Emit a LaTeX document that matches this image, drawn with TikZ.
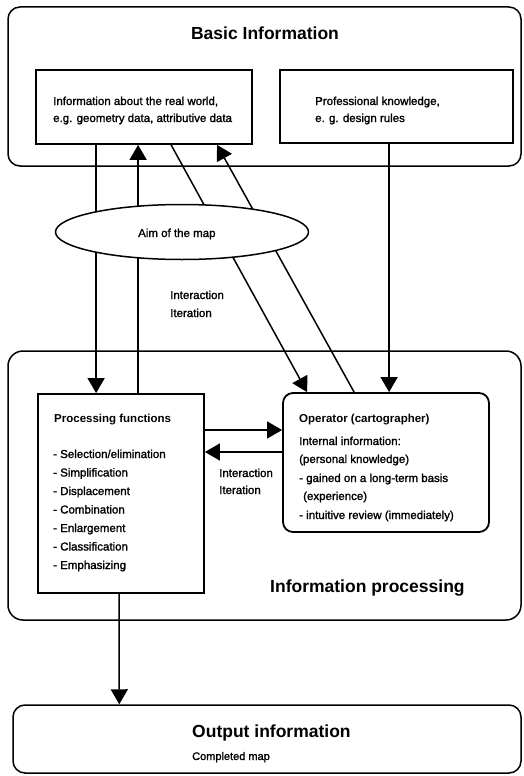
\documentclass[tikz,border=0pt]{standalone}
\usepackage{fontspec}
\setmainfont{Liberation Sans}[UprightFeatures={FakeBold=1.5}]
\usetikzlibrary{arrows.meta,shapes.geometric,backgrounds}
\begin{document}
\begin{tikzpicture}[x=1pt,y=-1pt,
  outerbox/.style={draw,line width=1.5pt,rounded corners=12pt,minimum width=#1,inner sep=0pt},
  innerbox/.style={draw,line width=1.8pt,inner sep=0pt},
  txt/.style={anchor=base west,inner sep=0pt,font=\fontsize{11.5}{13}\selectfont},
  btxt/.style={anchor=base west,inner sep=0pt,font=\fontsize{11.5}{13}\selectfont\bfseries},
  big/.style={anchor=base west,inner sep=0pt,font=\fontsize{17.5}{20}\selectfont\bfseries},
  arr/.style={line width=1.5pt,-{Triangle[length=15pt,width=17pt]}}]
\useasboundingbox (0,0) rectangle (523,776);
% outer boxes
\node[outerbox=513pt,minimum height=159pt] (basic) at (264.5,86.5) {};
\node[outerbox=513pt,minimum height=269pt,rounded corners=15pt] (procarea) at (264.5,485.5) {};
\node[outerbox=508pt,minimum height=68pt] (output) at (267,739) {};
% inner boxes
\node[innerbox,minimum width=216pt,minimum height=74pt] (real) at (144,107) {};
\node[innerbox,minimum width=233pt,minimum height=73pt] (prof) at (396.5,106.5) {};
\node[draw,fill=white,line width=1.5pt,ellipse,minimum width=253pt,minimum height=55pt,inner sep=0pt] (aim) at (182,232) {};
\node[innerbox,minimum width=166pt,minimum height=199pt] (proc) at (121,493.5) {};
\node[innerbox,rounded corners=10pt,minimum width=206pt,minimum height=139pt] (op) at (386,462.5) {};
% titles
\node[big,anchor=base] (tbasic) at (265,40) {Basic Information};
\node[big] (tproc) at (270,592) {Information processing};
\node[big] (tout) at (192,737) {Output information};
\node[txt,font=\fontsize{11}{13}\selectfont] (tcomp) at (192,760) {Completed map};
% basic info texts
\node[txt] (r1) at (53,105) {Information about the real world,};
\node[txt] (r2) at (53,122) {e.g. geometry data, attributive data};
\node[txt] (p1) at (315,105) {Professional knowledge,};
\node[txt] (p2) at (315,122) {e. g. design rules};
\node[txt] (taim) at (138,237) {Aim of the map};
\node[txt] (ii1) at (170,299) {Interaction};
\node[txt] (ii2) at (170,317) {Iteration};
% processing functions
\node[btxt] (pf) at (54,422) {Processing functions};
\node[txt] (f1) at (53,458) {- Selection/elimination};
\node[txt] (f2) at (53,476.5) {- Simplification};
\node[txt] (f3) at (53,495) {- Displacement};
\node[txt] (f4) at (53,513.5) {- Combination};
\node[txt] (f5) at (53,532) {- Enlargement};
\node[txt] (f6) at (53,550.5) {- Classification};
\node[txt] (f7) at (53,569) {- Emphasizing};
% operator
\node[btxt] (ot) at (299,422) {Operator (cartographer)};
\node[txt] (o1) at (299,445) {Internal information:};
\node[txt] (o2) at (299,463) {(personal knowledge)};
\node[txt] (o3) at (299,482) {- gained on a long-term basis};
\node[txt] (o4) at (303,500) {(experience)};
\node[txt] (o5) at (299,519) {- intuitive review (immediately)};
\node[txt] (ii3) at (219,477) {Interaction};
\node[txt] (ii4) at (219,494) {Iteration};
% connectors
\begin{pgfonlayer}{background}
\draw[arr] ([xshift=61pt]real.south west) -- ([xshift=59pt]proc.north west);
\draw[arr] ([xshift=101pt]proc.north west) -- ([xshift=103pt]real.south west);
\draw[arr] ([xshift=136pt]real.south west) -- ([xshift=25pt]op.north west);
\draw[arr] ([xshift=72pt]op.north west) -- ([xshift=182pt]real.south west);
\draw[arr] ([xshift=110pt]prof.south west) -- ([xshift=107pt]op.north west);
\draw[arr] ([yshift=63.5pt]proc.east) -- ([yshift=32.5pt]op.west);
\draw[arr] ([yshift=10.5pt]op.west) -- ([yshift=41.5pt]proc.east);
\draw[arr] ([xshift=82pt]proc.south west) -- ([xshift=107pt]output.north west);
\end{pgfonlayer}
\end{tikzpicture}
\end{document}
